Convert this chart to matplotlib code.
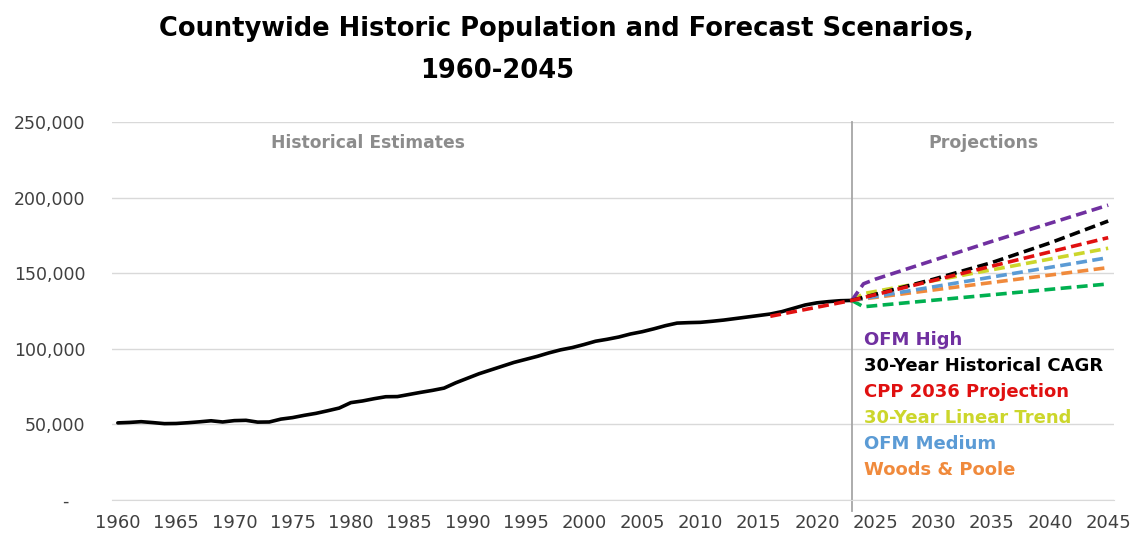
import numpy as np
import matplotlib.pyplot as plt
from matplotlib.ticker import FuncFormatter

plt.rcParams['font.family'] = ['DejaVu Sans']

hist_years = list(range(1960, 2024))
hist_pop = [51000, 51300, 51800, 51200, 50500, 50600, 51100, 51700, 52400, 51600,
            52500, 52700, 51500, 51600, 53500, 54500, 56000, 57300, 59000, 60800,
            64400, 65500, 67000, 68300, 68400, 69800, 71200, 72500, 74000, 77500,
            80500, 83500, 86000, 88500, 91000, 93000, 95000, 97300, 99300, 100800,
            102800, 105000, 106300, 107800, 109800, 111300, 113200, 115300, 117000, 117300,
            117500, 118200, 119000, 120000, 121000, 122000, 123000, 124600, 126800, 129000,
            130400, 131200, 131800, 132000]

# projection scenarios (key years)
ofm_high_years = [2023, 2024, 2025, 2030, 2035, 2040, 2045]
ofm_high = [132000, 143000, 146000, 158500, 171000, 183000, 195000]

cagr_years = [2023, 2025, 2030, 2035, 2040, 2045]
cagr = [132000, 136000, 146000, 157000, 170000, 184500]

cpp_years = [2016, 2023, 2045]
cpp = [121500, 132000, 173500]

linear_years = [2023, 2024, 2045]
linear = [132000, 136500, 166500]

ofm_med_years = [2023, 2045]
ofm_med = [132000, 160300]

wp_years = [2023, 2045]
wp = [132000, 153700]

ofm_low_years = [2023, 2024, 2045]
ofm_low = [132000, 127800, 142900]

labels = ['OFM High', '30-Year Historical CAGR', 'CPP 2036 Projection',
          '30-Year Linear Trend', 'OFM Medium', 'Woods & Poole']
colors = ['#7030A0', '#000000', '#E01010', '#CCD62B', '#5B9BD5', '#F08A3C']
green = '#00B050'

fig = plt.figure(figsize=(11.38, 5.36), dpi=100)
ax = fig.add_axes([112 / 1138, 36 / 536, 1002 / 1138, 378 / 536])

ax.plot(hist_years, hist_pop, '-', color='black', lw=2.6, solid_capstyle='round', zorder=3)

dash = (0, (3.0, 1.5))
series = [(ofm_high_years, ofm_high), (cagr_years, cagr), (cpp_years, cpp),
          (linear_years, linear), (ofm_med_years, ofm_med), (wp_years, wp)]
order = [5, 4, 3, 0, 1, 2]
ax.plot(ofm_low_years, ofm_low, linestyle=dash, color=green, lw=2.6, zorder=4)
for i in order:
    xs, ys = series[i]
    ax.plot(xs, ys, linestyle=dash, color=colors[i], lw=2.6, zorder=4)

ax.axvline(2023, ymin=-0.03, ymax=1, color='#A6A6A6', lw=1.3, clip_on=False, zorder=2)

ax.set_xlim(1959.5, 2045.5)
ax.set_ylim(0, 250000)
ax.set_xticks(range(1960, 2046, 5))
ax.set_yticks(range(0, 250001, 50000))
ax.yaxis.set_major_formatter(FuncFormatter(lambda v, p: '-   ' if v == 0 else f'{int(v):,}'))
ax.grid(axis='y', color='#D9D9D9', lw=1)
ax.set_axisbelow(True)
for s in ['top', 'left', 'right']:
    ax.spines[s].set_visible(False)
ax.spines['bottom'].set_color('#D9D9D9')
ax.tick_params(axis='both', length=0, colors='#404040')
ax.tick_params(axis='x', pad=10, labelsize=13)
ax.tick_params(axis='y', pad=19, labelsize=12.5)

ax.text(1981.5, 236000, 'Historical Estimates', color='#8C8C8C', fontsize=12.3,
        fontweight='bold', ha='center', va='center')
ax.text(2034.3, 236000, 'Projections', color='#8C8C8C', fontsize=12.5,
        fontweight='bold', ha='center', va='center')

for k, (lab, c) in enumerate(zip(labels, colors)):
    ax.text(2024.0, 105800 - k * 17200, lab, color=c, fontsize=13,
            fontweight='bold', ha='left', va='center')

fig.text(566 / 1138, 1 - 29 / 536, 'Countywide Historic Population and Forecast Scenarios,',
         ha='center', va='center', fontsize=18.5, fontweight='bold')
fig.text(497 / 1138, 1 - 71 / 536, '1960-2045',
         ha='center', va='center', fontsize=18.5, fontweight='bold')

fig.savefig('out.png', dpi=100)
